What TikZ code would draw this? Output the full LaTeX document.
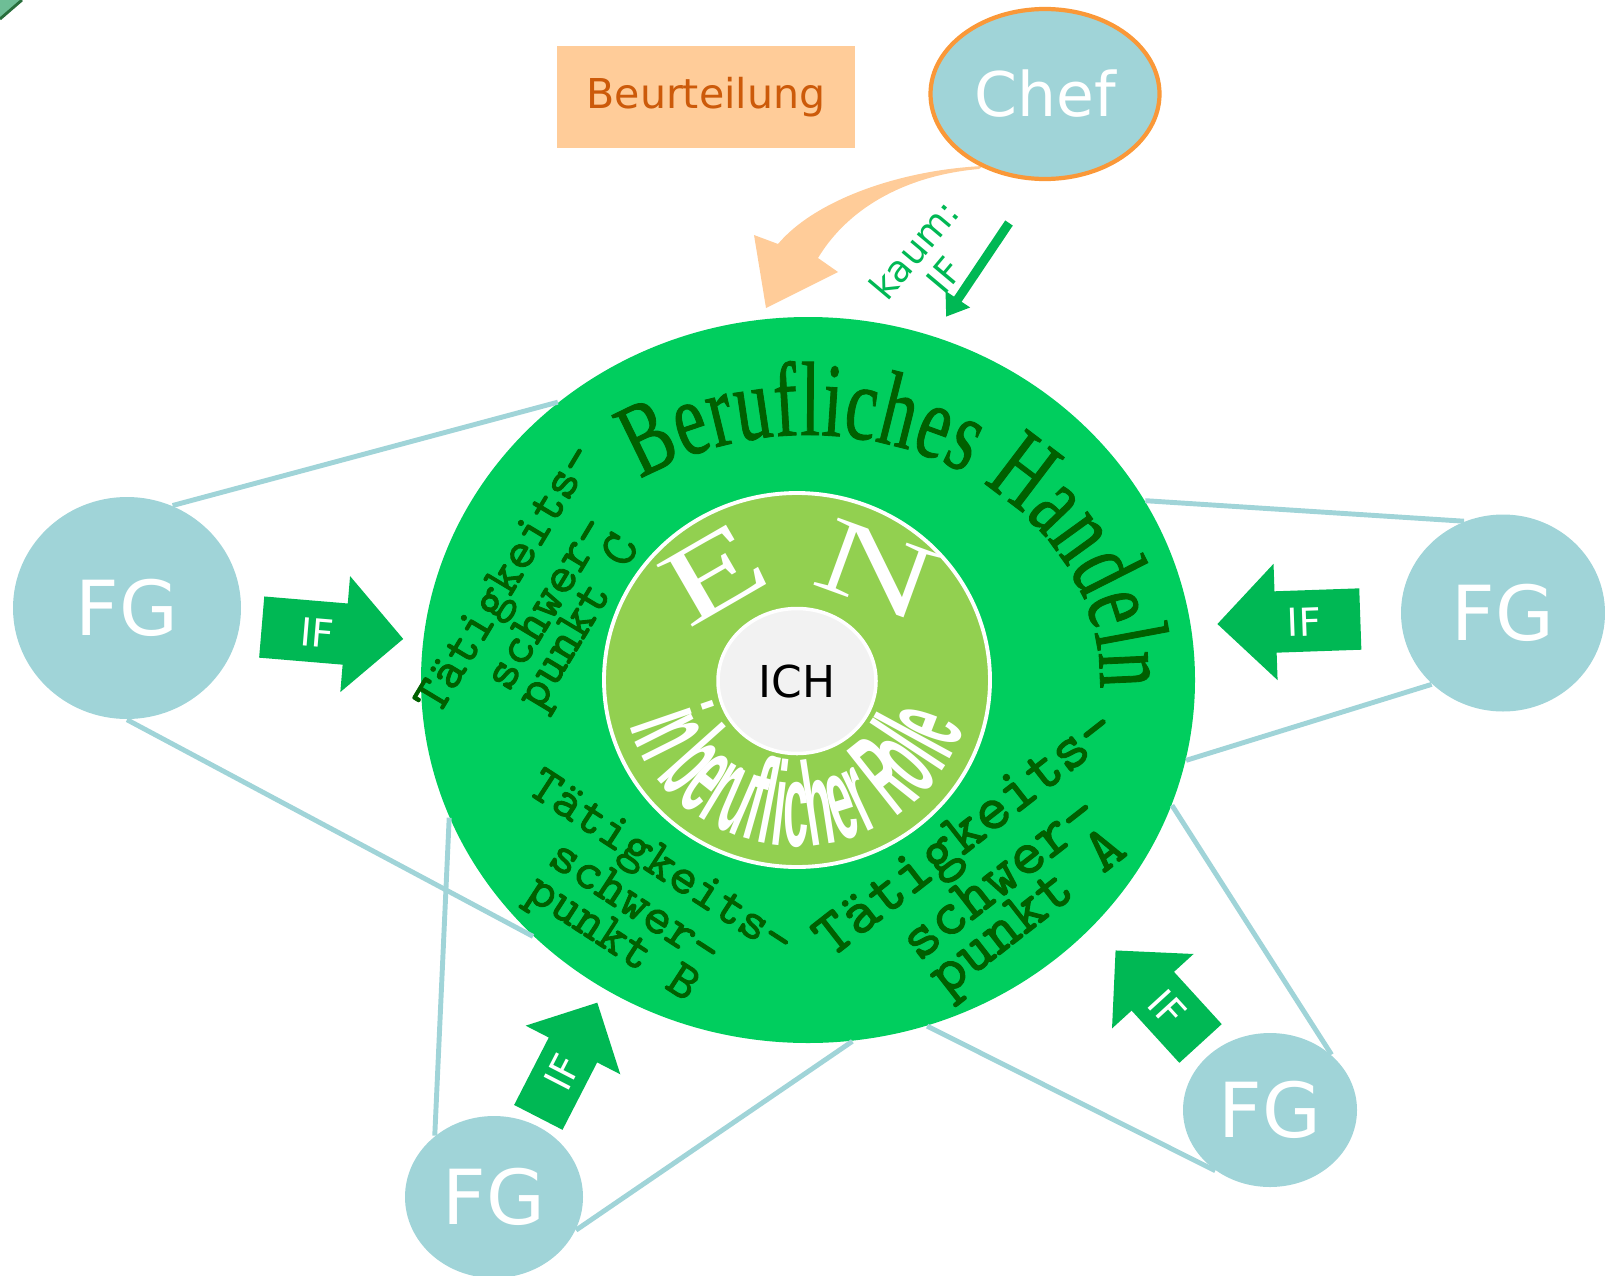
\documentclass[tikz,border=0pt]{standalone}
\usepackage{fontspec}
\setmainfont{DejaVu Sans}
\newfontfamily\bhfont[FakeStretch=0.68, FakeBold=0.8]{Liberation Serif}
\newfontfamily\enfont[FakeStretch=1.5]{Liberation Serif}
\newfontfamily\rollefont[FakeStretch=0.38]{Liberation Sans}
\newfontfamily\tsfont[Extension=.otf, FakeBold=1.6]{lmmono10-regular}
\usetikzlibrary{shapes.geometric,shapes.arrows,arrows.meta,decorations.text,positioning}
\definecolor{ringgreen}{RGB}{0,206,94}
\definecolor{lightgreen}{RGB}{146,208,80}
\definecolor{ifgreen}{RGB}{0,184,84}
\definecolor{fgblue}{RGB}{160,212,216}
\definecolor{peach}{RGB}{255,204,153}
\definecolor{darkorange}{RGB}{204,90,10}
\definecolor{chefborder}{RGB}{250,152,56}
\definecolor{textgreen}{RGB}{0,96,0}
\definecolor{ichgray}{RGB}{242,242,242}
\definecolor{cornergreen}{RGB}{110,190,150}
\definecolor{cornerdark}{RGB}{40,110,60}

\begin{document}
\begin{tikzpicture}[
  fg/.style={ellipse, fill=fgblue, text=white, inner sep=0pt, font=\fontsize{21.6}{24}\selectfont},
  ifarrow/.style={single arrow, fill=ifgreen, text=white, font=\fontsize{11}{13}\selectfont, text height=0.3cm, text depth=0cm, inner ysep=0.15cm, inner xsep=0.1cm, single arrow head extend=0.275cm, anchor=tail},
  link/.style={fgblue, line width=1.4pt},
  tsp/.style={text=textgreen, align=center, inner sep=0pt, font=\tsfont\fontsize{15}{11.5}\selectfont}]
  \useasboundingbox (0,0) rectangle (16.05,-12.76);
  \fill[cornergreen] (0,0) -- (0.22,0) -- (0,-0.19) -- cycle;
  \draw[cornerdark, line width=0.8pt] (0.22,0) -- (0,-0.19);

  \node[ellipse, fill=ringgreen, inner sep=0pt, minimum width=7.74cm, minimum height=7.26cm] (beruf) at (8.08,-6.80) {};
  \node[ellipse, fill=lightgreen, draw=white, line width=1.1pt, inner sep=0pt, minimum width=3.86cm, minimum height=3.74cm] (en) at (7.97,-6.80) {};
  \node[ellipse, fill=ichgray, draw=white, line width=1pt, inner sep=0pt, minimum width=1.58cm, minimum height=1.45cm, font=\fontsize{12.5}{14}\selectfont] (ich) at (7.97,-6.81) {ICH};

  \path[decorate, decoration={text along path, text align=fit to path, text={|\bhfont\fontsize{30}{34}\selectfont\color{textgreen}|Berufliches Handeln}}]
    (beruf.center) ++(125:2.92cm and 2.45cm) arc[start angle=125, end angle=-2, x radius=2.92cm, y radius=2.45cm];
  \path[decorate, decoration={text along path, text align=fit to path, text={|\rollefont\bfseries\fontsize{34}{38}\selectfont\color{white}|in beruflicher Rolle}}]
    (en.center) ++(196:1.74cm and 1.66cm) arc[start angle=196, end angle=344, x radius=1.74cm, y radius=1.66cm];
  \node[text=white, font=\enfont\fontsize{31}{34}\selectfont, rotate=30] (enE) at (7.14,-5.74) {E};
  \node[text=white, font=\enfont\fontsize{31}{34}\selectfont, rotate=-20] (enN) at (8.77,-5.70) {N};

  \node[tsp, rotate=59, font=\tsfont\fontsize{15}{10.5}\selectfont] (tspC) at (5.45,-6.02) {Tätigkeits-\\schwer-\\punkt C};
  \node[tsp, rotate=-33] (tspB) at (6.35,-9.04) {Tätigkeits-\\schwer-\\punkt B};
  \node[tsp, rotate=38, font=\tsfont\fontsize{18}{12.5}\selectfont] (tspA) at (9.99,-8.76) {Tätigkeits-\\schwer-\\punkt A};

  \node[fill=peach, minimum width=2.98cm, minimum height=1.02cm, text=darkorange, font=\fontsize{11.7}{14}\selectfont] (beurt) at (7.06,-0.97) {Beurteilung};
  \fill[peach] (9.83,-1.66) .. controls (9.00,-1.70) and (8.15,-2.00) .. (7.78,-2.44) -- (7.54,-2.35) -- (7.66,-3.08) -- (8.38,-2.72) -- (8.18,-2.58) .. controls (8.50,-2.05) and (9.10,-1.75) .. (9.79,-1.69) -- cycle;
  \node[ellipse, fill=fgblue, draw=chefborder, line width=1.2pt, inner sep=0pt, minimum width=2.29cm, minimum height=1.70cm, text=white, font=\fontsize{17.5}{19}\selectfont] (chef) at (10.45,-0.94) {Chef};

  \coordinate (kaum) at (10.09,-2.23);
  \draw[ifgreen, line width=2.6pt, -{Triangle[width=8pt,length=6pt]}, shorten >=0.23cm] (kaum) -- (beruf.70);
  \node[rotate=50, text=ifgreen, align=center, inner sep=0pt, font=\fontsize{10.5}{11.5}\selectfont] (kaumlbl) at (9.29,-2.62) {kaum:\\IF};

  \node[fg, minimum width=2.28cm, minimum height=2.22cm] (fgL) at (1.27,-6.08) {FG};
  \node[fg, minimum width=2.04cm, minimum height=1.97cm] (fgR) at (15.03,-6.13) {FG};
  \node[fg, minimum width=1.78cm, minimum height=1.62cm] (fgBL) at (4.94,-11.97) {FG};
  \node[fg, minimum width=1.74cm, minimum height=1.54cm] (fgBR) at (12.70,-11.10) {FG};

  \node[ifarrow, rotate=-4.8, minimum height=1.42cm] (ifL) at (2.61,-6.27) {IF};
  \node[ifarrow, rotate=2, shape border rotate=180, minimum height=1.43cm] (ifR) at (13.61,-6.19) {IF};
  \node[ifarrow, rotate=62.8, minimum height=1.29cm, inner ysep=0.115cm, single arrow head extend=0.26cm] (ifBL) at (5.38,-11.18) {IF};
  \node[ifarrow, rotate=-47.6, shape border rotate=180, minimum height=1.26cm, inner ysep=0.13cm, single arrow head extend=0.265cm] (ifBR) at (12.01,-10.44) {IF};

  \draw[link] (fgL.66) -- (beruf.132);
  \draw[link] (fgL.270) -- (beruf.223);
  \draw[link] (fgR.113) -- (beruf.28);
  \draw[link] (fgR.225) -- (beruf.-12);
  \draw[link] (fgBR.42) -- (beruf.-19);
  \draw[link] (fgBR.228) -- (beruf.-71);
  \draw[link] (fgBL.134) -- (beruf.201);
  \draw[link] (fgBL.-22) -- (beruf.-83);
\end{tikzpicture}
\end{document}
